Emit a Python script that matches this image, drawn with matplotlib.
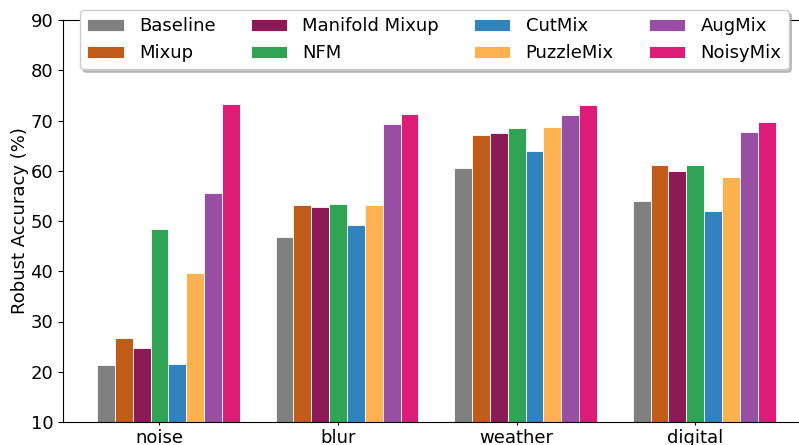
import numpy as np
import matplotlib
matplotlib.use("Agg")
import matplotlib.pyplot as plt

# Corruption categories and robust accuracy (%) per method
categories = ["noise", "blur", "weather", "digital"]
methods = ["Baseline", "Mixup", "Manifold Mixup", "NFM",
           "CutMix", "PuzzleMix", "AugMix", "NoisyMix"]
baseline = [21.3, 46.8, 60.6, 53.9]
mixup = [26.7, 53.1, 67.1, 61.2]
manifold_mixup = [24.7, 52.7, 67.5, 60.0]
nfm = [48.5, 53.4, 68.5, 61.2]
cutmix = [21.5, 49.2, 64.0, 51.9]
puzzlemix = [39.7, 53.1, 68.8, 58.8]
augmix = [55.6, 69.4, 71.0, 67.7]
noisymix = [73.2, 71.3, 73.0, 69.8]

series = [baseline, mixup, manifold_mixup, nfm, cutmix, puzzlemix, augmix, noisymix]
colors = ["#808080", "#c05b19", "#8a1b56", "#31a354",
          "#3182bd", "#fdb14f", "#984ea3", "#dd1c77"]

fig = plt.figure(figsize=(7.99, 4.45), dpi=100)
W, H = 799, 445
ax = fig.add_axes([63 / W, 1 - 422 / H, (809.5 - 63) / W, (422 - 20) / H])

x = np.arange(len(categories))
width = 0.1
for i, (vals, name, c) in enumerate(zip(series, methods, colors)):
    ax.bar(x + (i - 3) * width, vals, width, label=name, color=c,
           edgecolor="white", linewidth=0.6)

ax.set_xticks(x)
ax.set_xticklabels(categories, fontsize=13)
ax.tick_params(axis="x", length=2.5, pad=2.5)
ax.set_ylim(10, 90)
ax.set_xlim(-0.54, 3.64)
ax.set_yticks(np.arange(10, 91, 10))
ax.tick_params(axis="y", labelsize=13)
ax.set_ylabel("Robust Accuracy (%)", fontsize=13, labelpad=1)

ax.legend(ncol=4, loc="upper center", bbox_to_anchor=(0.4975, 1.025),
          borderaxespad=0, fontsize=13, columnspacing=1.95,
          handletextpad=0.85,
          shadow={"color": "0.55", "alpha": 0.5}, framealpha=1)

fig.savefig("out.png", dpi=100)
